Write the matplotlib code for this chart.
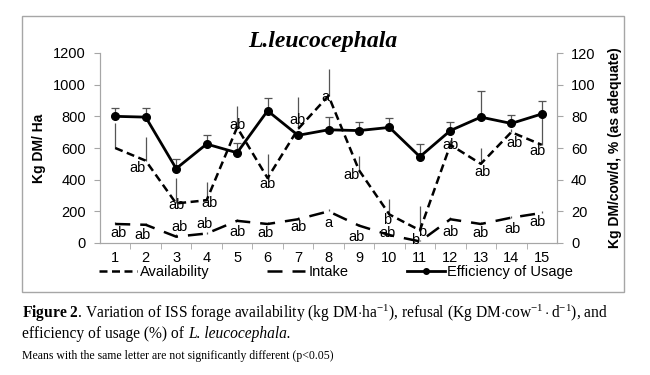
import matplotlib
matplotlib.use('Agg')
import matplotlib.pyplot as plt
from matplotlib.patches import Rectangle
from matplotlib.lines import Line2D

# values
weeks = list(range(1, 16))
availability = [600, 520, 250, 270, 730, 410, 720, 930, 460, 180, 80, 620, 500, 700, 620]
availability_err = [160, 150, 160, 115, 135, 155, 205, 170, 90, 100, 155, 30, 100, 20, 190]
intake = [12, 11.5, 4, 6, 14, 12, 15, 20, 11, 5, 1, 15, 12, 16, 19]
intake_err = [1.2, 1.0, 1.5, 1.2, 1.0, 1.2, 1.5, 1.5, 1.0, 1.2, 1.0, 1.2, 1.0, 1.2, 1.5]
efficiency = [80, 79.5, 47, 62.5, 57, 83.5, 68, 71.5, 71, 73, 54.5, 71, 79.5, 75.5, 81.5]
efficiency_err = [5, 5.5, 6, 5.5, 6, 8, 0, 8, 5.5, 6, 8, 5.5, 16.5, 5.5, 8.5]

avail_letters = ['', 'ab', 'ab', 'ab', 'ab', 'ab', 'ab', 'a', 'ab', 'b', 'b', 'ab', 'ab', 'ab', 'ab']
intake_letters = ['ab', 'ab', 'ab', 'ab', 'ab', 'ab', 'ab', 'a', 'ab', 'ab', 'b', 'ab', 'ab', 'ab', 'ab']

# label offsets in pixels from each point
avail_offsets = [(0, 0), (-8, -7), (0, -2), (3, -3), (0, 2), (0, -6), (-1, 9), (-3, -1),
                 (-7, -5), (-2, -6), (2, -2), (0, 0), (2, -8), (3, -11), (-4, -6)]
intake_offsets = [(3, -9), (-3, -10), (3, 10), (-2, 9), (0, -11), (-2, -9), (0, -8), (0, -12),
                  (-2, -11), (-2, 2), (-5, 1), (0, -13), (0, -9), (1, -11), (-4, -9)]

plt.rcParams['font.family'] = ['Liberation Sans', 'DejaVu Sans']
plt.rcParams['mathtext.fontset'] = 'custom'
plt.rcParams['mathtext.rm'] = 'Liberation Serif'
plt.rcParams['mathtext.it'] = 'Liberation Serif:italic'
plt.rcParams['mathtext.bf'] = 'Liberation Serif:bold'

fig = plt.figure(figsize=(6.5, 3.75), dpi=100)
ax = fig.add_axes([100 / 650, 1 - 243 / 375, 457 / 650, 190 / 375])
ax2 = ax.twinx()

grey = '#a6a6a6'
fig.patches.append(Rectangle((22 / 650, 1 - 292 / 375), 602 / 650, 276 / 375,
                             transform=fig.transFigure, fill=False,
                             edgecolor=grey, linewidth=1.0))

avail_dash = (3.2, 1.8)
intake_dash = (6, 4)

# availability (left axis)
ax.errorbar(weeks, availability, yerr=[[0] * len(weeks), availability_err], fmt='none',
            ecolor='#555555', elinewidth=0.9, capsize=0, zorder=2)
ax.plot(weeks, availability, color='black', linewidth=1.8, dashes=avail_dash, zorder=3)

# intake + efficiency (right axis)
ax2.errorbar(weeks, intake, yerr=[[0] * len(weeks), intake_err], fmt='none',
             ecolor='#555555', elinewidth=0.9, capsize=0, zorder=2)
ax2.plot(weeks, intake, color='black', linewidth=1.8, dashes=intake_dash, zorder=3)
ax2.errorbar(weeks, efficiency, yerr=[[0] * len(weeks), efficiency_err], fmt='none',
             ecolor='#555555', elinewidth=0.9, capsize=3, capthick=0.9, zorder=4)
ax2.plot(weeks, efficiency, color='black', linewidth=2, marker='o', markersize=5.5, zorder=5)

for x, y, t, off in zip(weeks, availability, avail_letters, avail_offsets):
    if t:
        ax.annotate(t, (x, y), xytext=off, textcoords='offset pixels',
                    ha='center', va='center', fontsize=10.5, zorder=6)
for x, y, t, off in zip(weeks, intake, intake_letters, intake_offsets):
    ax2.annotate(t, (x, y), xytext=off, textcoords='offset pixels',
                 ha='center', va='center', fontsize=10.5, zorder=6)

ax.set_xlim(0.5, 15.5)
ax.set_ylim(0, 1200)
ax2.set_ylim(0, 120)
ax.set_yticks(range(0, 1201, 200))
ax2.set_yticks(range(0, 121, 20))
ax.set_xticks(weeks)
ax.set_xticks([w + 0.5 for w in weeks[:-1]], minor=True)
ax.tick_params(axis='x', which='major', length=0, pad=6, labelsize=10.5)
ax.tick_params(axis='x', which='minor', length=4, direction='out', color=grey)
ax.tick_params(axis='y', length=4, color=grey, labelsize=10.5, pad=6)
ax2.tick_params(axis='y', length=4, color=grey, labelsize=10.5, pad=6)

for a in (ax, ax2):
    a.spines['top'].set_visible(False)
    for s in ('left', 'right', 'bottom'):
        a.spines[s].set_color(grey)
ax.patch.set_visible(False)

ax.set_ylabel('Kg DM/ Ha', fontsize=10, fontweight='bold', labelpad=5)
ax2.set_ylabel('Kg DM/cow/d, % (as adequate)', fontsize=10, fontweight='bold', labelpad=9)

fig.text(323 / 650, 1 - 42 / 375, 'L.leucocephala', family='Liberation Serif',
         style='italic', fontweight='bold', fontsize=17, ha='center', va='center')

handles = [
    Line2D([], [], color='black', linewidth=1.8, dashes=avail_dash),
    Line2D([], [], color='black', linewidth=1.8, dashes=intake_dash),
    Line2D([], [], color='black', linewidth=2, marker='o', markersize=4),
]
fig.legend(handles, ['Availability', 'Intake', 'Efficiency of Usage'], ncol=3,
           loc='center', bbox_to_anchor=(336 / 650, 1 - 272 / 375), frameon=False,
           fontsize=10.5, handlelength=2.6, handletextpad=0.2, columnspacing=4.0,
           borderaxespad=0, borderpad=0)

cap1 = (r'$\mathbf{Figure\ 2}$. Variation of ISS forage availability (kg DM$\cdot$ha$^{-1}$), '
        r'refusal (Kg DM$\cdot$cow$^{-1}\cdot$d$^{-1}$), and')
cap2 = 'efficiency of usage (%) of '
cap2_it = 'L. leucocephala.'
cap3 = 'Means with the same letter are not significantly different (p<0.05)'
fig.text(22 / 650, 1 - 313 / 375, cap1, family='Liberation Serif', fontsize=11.2, va='center')
t2 = fig.text(22 / 650, 1 - 334 / 375, cap2, family='Liberation Serif', fontsize=11.2,
              va='center')
fig.text(22 / 650, 1 - 356 / 375, cap3, family='Liberation Serif', fontsize=8.5, va='center')

# italic species name right after the plain part of line 2
renderer = fig.canvas.get_renderer()
bb = t2.get_window_extent(renderer=renderer)
fig.text(bb.x1 / fig.bbox.width, 1 - 334 / 375, cap2_it, family='Liberation Serif',
         style='italic', fontsize=11.2, va='center')

fig.savefig('out.png', dpi=100)
